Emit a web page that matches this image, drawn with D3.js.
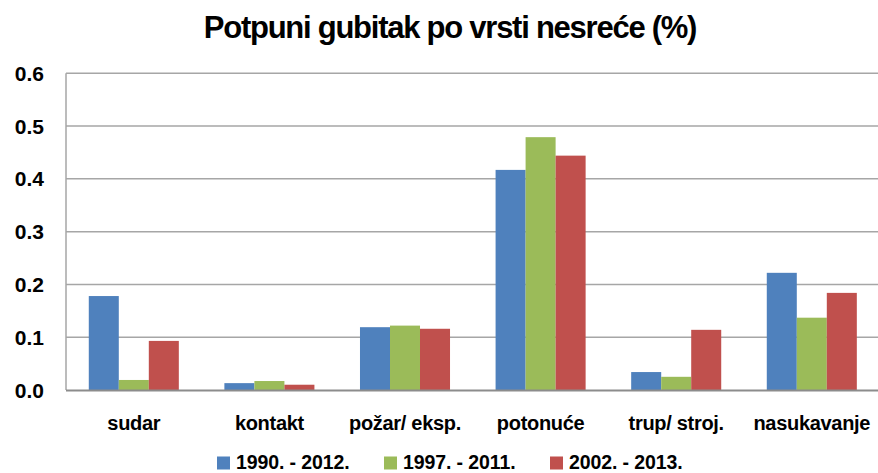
<!DOCTYPE html>
<html><head><meta charset="utf-8">
<script src="https://cdn.jsdelivr.net/npm/d3@7"></script>
<style>body{margin:0;background:#fff}svg{display:block}text{font-family:"Liberation Sans",Arial,sans-serif;font-weight:bold;fill:#000}</style>
</head><body>
<script>
const categories = ["sudar","kontakt","požar/ eksp.","potonuće","trup/ stroj.","nasukavanje"];
const seriesNames = ["1990. - 2012.","1997. - 2011.","2002. - 2013."];
const s1990 = [0.178,0.013,0.119,0.417,0.034,0.222];
const s1997 = [0.019,0.017,0.122,0.479,0.025,0.137];
const s2002 = [0.093,0.010,0.116,0.444,0.114,0.184];
const yTicks = [0,0.1,0.2,0.3,0.4,0.5,0.6];
const colors = ["#4F81BD","#9BBB59","#C0504D"];
const seriesVals = [s1990,s1997,s2002];

const W=878,H=473;
const svg=d3.select("body").append("svg").attr("width",W).attr("height",H);
const x=d3.scaleBand().domain(categories).range([66,879.6]).paddingInner(0.336).paddingOuter(0.168);
const xs=d3.scaleBand().domain(d3.range(3)).range([0,x.bandwidth()]);
const y=d3.scaleLinear().domain([0,0.6]).range([390,73.3]);

// gridlines
svg.append("g").selectAll("line").data(yTicks.filter(d=>d>0)).join("line")
 .attr("x1",66).attr("x2",W).attr("y1",d=>y(d)).attr("y2",d=>y(d))
 .attr("stroke","#a6a6a6").attr("stroke-width",1.5);

// bars
const g=svg.append("g");
seriesVals.forEach((vals,si)=>{
  g.append("g").selectAll("rect").data(vals).join("rect")
   .attr("x",(d,i)=>x(categories[i])+xs(si))
   .attr("width",xs.bandwidth())
   .attr("y",d=>y(d)).attr("height",d=>y(0)-y(d))
   .attr("fill",colors[si]);
});

// axes lines
svg.append("line").attr("x1",66).attr("x2",66).attr("y1",y(0.6)).attr("y2",y(0)).attr("stroke","#a6a6a6").attr("stroke-width",1.5);
svg.append("line").attr("x1",66).attr("x2",W).attr("y1",y(0)+0.5).attr("y2",y(0)+0.5).attr("stroke","#8c8c8c").attr("stroke-width",2);

// y labels
svg.append("g").selectAll("text").data(yTicks).join("text")
 .attr("x",44).attr("y",d=>y(d)).attr("dy","0.36em").attr("text-anchor","end")
 .style("font-size","21px").text(d=>d.toFixed(1));

// x labels
svg.append("g").selectAll("text").data(categories).join("text")
 .attr("x",d=>x(d)+x.bandwidth()/2).attr("y",430).attr("text-anchor","middle")
 .style("font-size","20px").style("letter-spacing","-0.3px").text(d=>d);

// title
svg.append("text").attr("x",450).attr("y",38).attr("text-anchor","middle")
 .style("font-size","31px").style("letter-spacing","-1.25px").text("Potpuni gubitak po vrsti nesreće (%)");

// legend
const lx=[217,384,550];
const lg=svg.append("g").selectAll("g").data(seriesNames).join("g")
 .attr("transform",(d,i)=>`translate(${lx[i]},0)`);
lg.append("rect").attr("x",0).attr("y",456.5).attr("width",13).attr("height",13).attr("fill",(d,i)=>colors[i]);
lg.append("text").attr("x",19).attr("y",468.5).style("font-size","19.5px").style("letter-spacing","-0.1px").text(d=>d);
</script>
</body></html>
